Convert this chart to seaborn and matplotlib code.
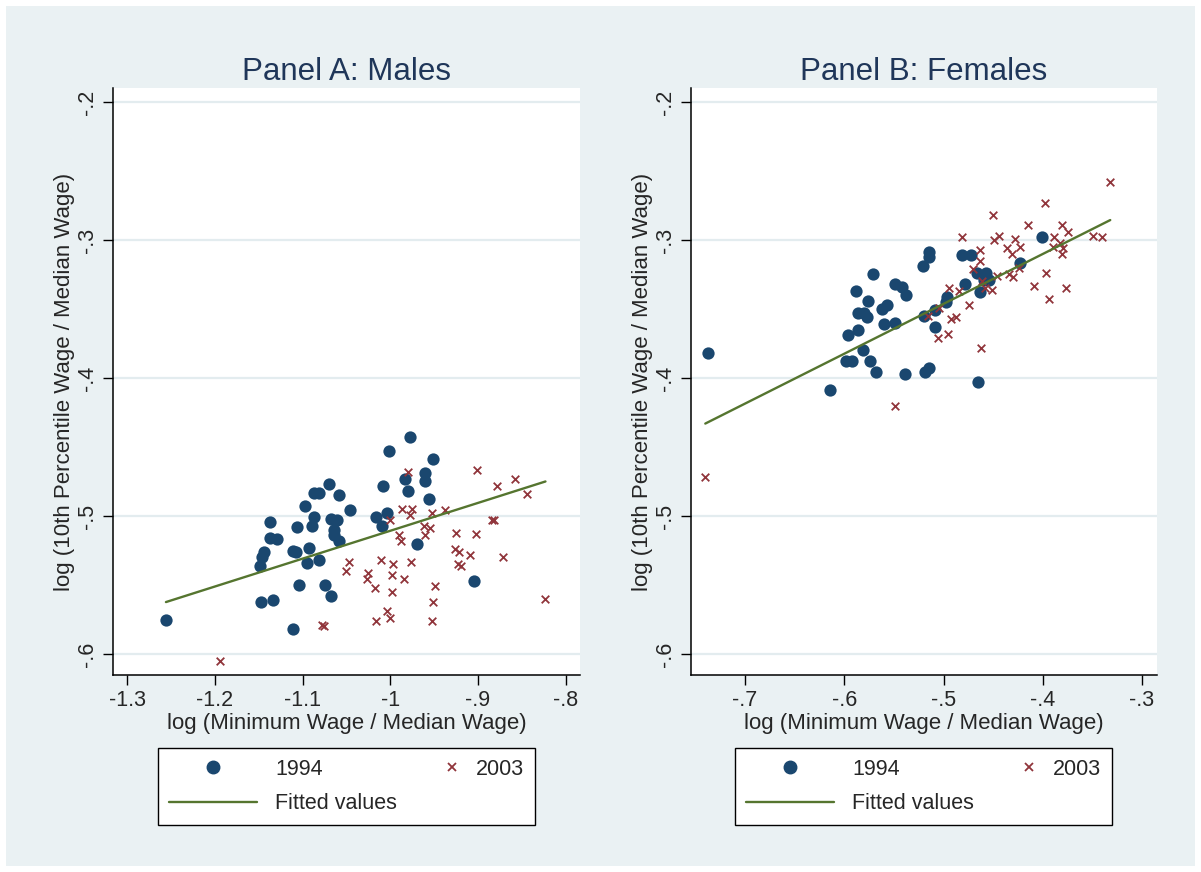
import numpy as np
import matplotlib
matplotlib.use("Agg")
import matplotlib.pyplot as plt
import seaborn as sns
from matplotlib.lines import Line2D
from matplotlib.patches import Rectangle
from matplotlib.legend_handler import HandlerLine2D

# ---- data ----
males_1994_x = [-1.256, -1.070, -1.087, -1.081, -1.097, -1.087, -1.089, -1.137, -1.106, -1.137,
                -1.129, -1.144, -1.146, -1.149, -1.111, -1.108, -1.093, -1.095, -1.081, -1.104,
                -1.074, -1.068, -1.147, -1.134, -1.111, -0.977, -1.002, -0.951, -0.960, -0.983,
                -0.960, -0.980, -0.956, -1.008, -1.058, -1.046, -1.068, -1.061, -1.064, -1.064,
                -1.058, -1.016, -1.004, -1.010, -0.970, -0.905]
males_1994_y = [-0.575, -0.477, -0.483, -0.483, -0.493, -0.501, -0.507, -0.504, -0.508, -0.516,
                -0.517, -0.526, -0.530, -0.536, -0.525, -0.526, -0.523, -0.534, -0.532, -0.550,
                -0.550, -0.558, -0.562, -0.561, -0.582, -0.443, -0.453, -0.459, -0.469, -0.473,
                -0.475, -0.482, -0.488, -0.478, -0.485, -0.496, -0.502, -0.503, -0.510, -0.514,
                -0.518, -0.501, -0.498, -0.507, -0.520, -0.547]

males_2003_x = [-1.078, -1.076, -1.194, -0.980, -0.901, -0.878, -0.858, -0.844, -0.987, -0.975,
                -0.978, -1.000, -0.953, -0.938, -0.962, -0.955, -0.961, -0.990, -0.988, -0.925,
                -0.902, -0.884, -0.882, -0.926, -0.922, -0.909, -0.871, -0.923, -0.919, -1.047,
                -1.050, -1.011, -0.997, -0.976, -1.025, -1.027, -0.998, -0.984, -1.017, -0.998,
                -0.949, -0.951, -0.823, -1.004, -1.000, -1.016, -0.953]
males_2003_y = [-0.579, -0.580, -0.605, -0.468, -0.467, -0.478, -0.473, -0.484, -0.495, -0.495,
                -0.499, -0.503, -0.498, -0.496, -0.507, -0.509, -0.514, -0.514, -0.518, -0.512,
                -0.513, -0.503, -0.503, -0.524, -0.526, -0.528, -0.530, -0.535, -0.536, -0.533,
                -0.540, -0.532, -0.535, -0.533, -0.541, -0.546, -0.543, -0.546, -0.552, -0.555,
                -0.551, -0.562, -0.560, -0.569, -0.574, -0.576, -0.576]

females_1994_x = [-0.737, -0.614, -0.588, -0.586, -0.586, -0.596, -0.598, -0.592, -0.571, -0.549,
                  -0.542, -0.538, -0.576, -0.580, -0.577, -0.562, -0.557, -0.560, -0.549, -0.581,
                  -0.574, -0.568, -0.539, -0.519, -0.515, -0.465, -0.515, -0.515, -0.521, -0.481,
                  -0.472, -0.520, -0.509, -0.509, -0.496, -0.497, -0.478, -0.466, -0.457, -0.463,
                  -0.459, -0.454, -0.423, -0.401]
females_1994_y = [-0.382, -0.409, -0.337, -0.353, -0.365, -0.369, -0.388, -0.388, -0.325, -0.332,
                  -0.334, -0.340, -0.344, -0.353, -0.356, -0.350, -0.347, -0.361, -0.360, -0.380,
                  -0.388, -0.396, -0.397, -0.396, -0.393, -0.403, -0.309, -0.312, -0.319, -0.311,
                  -0.311, -0.355, -0.351, -0.363, -0.341, -0.345, -0.332, -0.324, -0.324, -0.338,
                  -0.329, -0.329, -0.317, -0.298]

females_2003_x = [-0.450, -0.481, -0.463, -0.463, -0.470, -0.494, -0.484, -0.505, -0.516, -0.474,
                  -0.492, -0.487, -0.506, -0.495, -0.462, -0.461, -0.458, -0.451, -0.444, -0.449,
                  -0.436, -0.431, -0.428, -0.446, -0.434, -0.430, -0.332, -0.398, -0.415, -0.381,
                  -0.375, -0.423, -0.389, -0.390, -0.383, -0.380, -0.381, -0.349, -0.340, -0.424,
                  -0.397, -0.409, -0.377, -0.394, -0.549, -0.740]
females_2003_y = [-0.282, -0.298, -0.307, -0.315, -0.321, -0.335, -0.337, -0.349, -0.355, -0.347,
                  -0.357, -0.356, -0.371, -0.368, -0.378, -0.330, -0.335, -0.336, -0.297, -0.300,
                  -0.306, -0.310, -0.299, -0.326, -0.325, -0.327, -0.258, -0.273, -0.289, -0.289,
                  -0.294, -0.305, -0.298, -0.305, -0.302, -0.306, -0.310, -0.297, -0.298, -0.320,
                  -0.324, -0.333, -0.335, -0.343, -0.420, -0.472]

# fitted values (slope, intercept) as shown in the figure
males_fit = (0.2018, -0.3089)
females_fit = (0.3614, -0.1656)

titles = ["Panel A: Males", "Panel B: Females"]
males_xticks = [-1.3, -1.2, -1.1, -1.0, -0.9, -0.8]
males_xticklabels = ["-1.3", "-1.2", "-1.1", "-1", "-.9", "-.8"]
females_xticks = [-0.7, -0.6, -0.5, -0.4, -0.3]
females_xticklabels = ["-.7", "-.6", "-.5", "-.4", "-.3"]
yticks = [-0.6, -0.5, -0.4, -0.3, -0.2]
yticklabels = ["-.6", "-.5", "-.4", "-.3", "-.2"]
legend_labels = ["1994", "Fitted values", "2003", ""]
xlabel = "log (Minimum Wage / Median Wage)"
ylabel = "log (10th Percentile Wage / Median Wage)"

# ---- style (Stata s2color look) ----
NAVY = "#1A476F"
MAROON = "#90353B"
GREEN = "#55752F"
BG = "#EAF1F3"
GRID = "#E3ECEF"
TITLE_COLOR = "#1F3659"

sns.set_style("white")
plt.rcParams["font.family"] = ["Liberation Sans", "DejaVu Sans"]

W, H = 1201, 872
fig = plt.figure(figsize=(W / 100, H / 100), dpi=100)
fig.patch.set_facecolor("white")
fig.patches.append(Rectangle((6 / W, 6 / H), 1 - 12 / W, 1 - 12 / H,
                             transform=fig.transFigure, facecolor=BG,
                             edgecolor="none", zorder=-10))


class RightMarkerHandler(HandlerLine2D):
    """put the small x next to its label, like Stata does"""
    def get_xdata(self, legend, xdescent, ydescent, width, height, fontsize):
        x = width - xdescent - 0.25 * fontsize
        return np.array([x, x]), np.array([x])


def px_box(left, top, right, bottom):
    return [left / W, 1 - bottom / H, (right - left) / W, (bottom - top) / H]


panels = [
    dict(x94=males_1994_x, y94=males_1994_y, x03=males_2003_x, y03=males_2003_y,
         fit=males_fit, xticks=males_xticks, xticklabels=males_xticklabels,
         xlim=(-1.3164, -0.7836), box=px_box(113, 88, 580, 675),
         legend=(158, 745, 535, 828)),
    dict(x94=females_1994_x, y94=females_1994_y, x03=females_2003_x, y03=females_2003_y,
         fit=females_fit, xticks=females_xticks, xticklabels=females_xticklabels,
         xlim=(-0.7544, -0.2849), box=px_box(691, 88, 1157, 675),
         legend=(735, 745, 1112, 828)),
]

for p, title in zip(panels, titles):
    ax = fig.add_axes(p["box"])
    ax.set_facecolor("white")

    sns.scatterplot(x=p["x94"], y=p["y94"], ax=ax, color=NAVY, marker="o",
                    s=78, linewidth=0, zorder=2)
    sns.scatterplot(x=p["x03"], y=p["y03"], ax=ax, color=MAROON, marker="x",
                    s=30, linewidth=1.3, zorder=3)
    # fitted line over the pooled x range
    all_x = np.array(p["x94"] + p["x03"])
    fit_x = np.array([all_x.min(), all_x.max()])
    slope, intercept = p["fit"]
    sns.lineplot(x=fit_x, y=intercept + slope * fit_x, ax=ax, color=GREEN,
                 linewidth=1.7, zorder=4)

    ax.set_xlim(*p["xlim"])
    ax.set_ylim(-0.6152, -0.1899)
    ax.set_xticks(p["xticks"], p["xticklabels"])
    ax.set_yticks(yticks, yticklabels)
    for lbl in ax.get_yticklabels():
        lbl.set_rotation(90)
        lbl.set_va("center")
    ax.tick_params(axis="both", direction="out", length=7, width=1, color="black",
                   labelsize=15.5, pad=4, left=True, bottom=True)
    ax.yaxis.grid(True, color=GRID, linewidth=1.6)
    ax.xaxis.grid(False)
    ax.set_axisbelow(True)
    for side in ["top", "right"]:
        ax.spines[side].set_visible(False)
    for side in ["left", "bottom"]:
        ax.spines[side].set_color("black")
        ax.spines[side].set_linewidth(1.1)

    ax.set_title(title, fontsize=22.5, color=TITLE_COLOR, pad=6)
    ax.set_xlabel(xlabel, fontsize=16, labelpad=1)
    ax.set_ylabel(ylabel, fontsize=16, labelpad=1)

    # legend box under the panel
    dot = Line2D([], [], marker="o", linestyle="none", color=NAVY, markersize=9)
    fit = Line2D([], [], color=GREEN, linewidth=1.7)
    cross = Line2D([], [], marker="x", linestyle="none", color=MAROON,
                   markersize=5.5, markeredgewidth=1.3)
    blank = Line2D([], [], linestyle="none")
    l, t, r, b = p["legend"]
    leg = ax.legend([dot, fit, cross, blank], legend_labels, ncol=2, mode="expand",
                    loc="center", bbox_to_anchor=(l / W, 1 - b / H, (r - l) / W, (b - t) / H),
                    bbox_transform=fig.transFigure, borderaxespad=0, frameon=True,
                    fancybox=False, framealpha=1, edgecolor="black", fontsize=15.5,
                    handlelength=4.1, handletextpad=0.85, labelspacing=0.65,
                    borderpad=0.5, numpoints=1,
                    handler_map={cross: RightMarkerHandler()})
    leg.get_frame().set_linewidth(1.0)

plt.savefig("out.png", dpi=100, facecolor=fig.get_facecolor())
plt.close()
